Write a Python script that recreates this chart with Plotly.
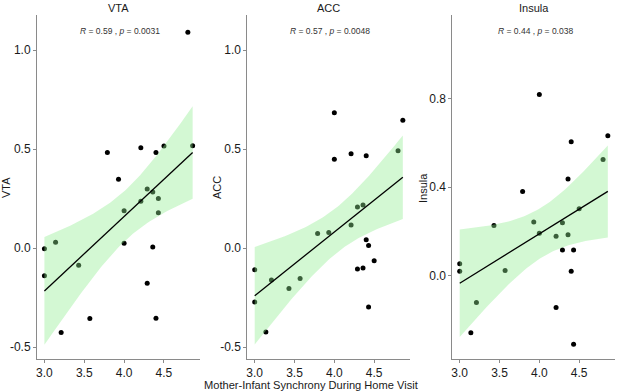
import numpy as np
import plotly.graph_objects as go

panels = ["VTA", "ACC", "Insula"]
x_title = "Mother-Infant Synchrony During Home Visit"

vta_x = [4.80, 3.79, 4.21, 4.40, 4.50, 4.86, 3.93, 4.29, 4.36, 4.21, 4.43, 4.43, 4.00, 4.00, 4.36, 3.00, 3.14, 3.00, 3.43, 4.29, 3.57, 4.40, 3.21]
vta_y = [1.09, 0.483, 0.507, 0.483, 0.515, 0.517, 0.348, 0.298, 0.283, 0.236, 0.251, 0.178, 0.189, 0.024, 0.005, -0.003, 0.029, -0.14, -0.086, -0.177, -0.355, -0.354, -0.426]

acc_x = [4.00, 4.86, 4.00, 4.21, 4.40, 4.80, 4.29, 4.36, 4.21, 3.79, 3.93, 4.40, 4.43, 4.50, 4.29, 4.36, 3.00, 3.21, 3.57, 3.43, 3.00, 4.43, 3.14]
acc_y = [0.684, 0.645, 0.449, 0.476, 0.466, 0.491, 0.207, 0.217, 0.116, 0.074, 0.079, 0.042, 0.013, -0.064, -0.106, -0.101, -0.109, -0.161, -0.153, -0.204, -0.272, -0.298, -0.424]

ins_x = [4.00, 4.86, 4.40, 4.80, 4.36, 3.79, 4.50, 3.43, 3.93, 4.29, 4.00, 4.21, 4.36, 4.29, 4.43, 3.00, 3.00, 3.57, 4.40, 3.21, 4.21, 3.14, 4.43]
ins_y = [0.818, 0.632, 0.605, 0.524, 0.437, 0.38, 0.302, 0.227, 0.243, 0.239, 0.192, 0.179, 0.185, 0.116, 0.117, 0.055, 0.021, 0.024, 0.021, -0.12, -0.143, -0.257, -0.309]

stats_text = ["<i>R</i> = 0.59 , <i>p</i> = 0.0031",
              "<i>R</i> = 0.57 , <i>p</i> = 0.0048",
              "<i>R</i> = 0.44 , <i>p</i> = 0.038"]

x_ticks = [3.0, 3.5, 4.0, 4.5]
y_ticks = [[-0.5, 0.0, 0.5, 1.0], [-0.5, 0.0, 0.5, 1.0], [0.0, 0.4, 0.8]]
y_ranges = [[-0.56, 1.177], [-0.56, 1.177], [-0.375, 1.176]]
x_range = [2.907, 4.95]

T975 = 2.0796  # t quantile, df = 21

data = [(vta_x, vta_y), (acc_x, acc_y), (ins_x, ins_y)]

FONT = "Liberation Sans, Arial, sans-serif"

W, H = 617, 392
def px(xp):
    return xp / W
def py(yp):
    return 1 - yp / H

fig = go.Figure()

x_domains = [[px(37), px(199.8)], [px(247.3), px(410)], [px(452.3), px(615)]]
y_domain = [py(359), py(15)]
ytitle_x = [6, 217, 423]

for i, (xs, ys) in enumerate(data):
    xa = "x" if i == 0 else f"x{i+1}"
    ya = "y" if i == 0 else f"y{i+1}"
    x = np.array(xs); y = np.array(ys)
    n = len(x)
    b, a = np.polyfit(x, y, 1)
    resid = y - (a + b * x)
    s = np.sqrt(np.sum(resid**2) / (n - 2))
    sxx = np.sum((x - x.mean())**2)
    grid = np.linspace(x.min(), x.max(), 80)
    fit = a + b * grid
    se = s * np.sqrt(1 / n + (grid - x.mean())**2 / sxx)
    lo = fit - T975 * se
    hi = fit + T975 * se

    fig.add_trace(go.Scatter(x=xs, y=ys, mode="markers", xaxis=xa, yaxis=ya,
                             marker=dict(color="black", size=5), showlegend=False))
    fig.add_trace(go.Scatter(x=np.concatenate([grid, grid[::-1]]),
                             y=np.concatenate([hi, lo[::-1]]),
                             mode="lines", fill="toself", line=dict(width=0),
                             fillcolor="rgba(144,238,144,0.4)", xaxis=xa, yaxis=ya,
                             showlegend=False, hoverinfo="skip"))
    fig.add_trace(go.Scatter(x=grid, y=fit, mode="lines", xaxis=xa, yaxis=ya,
                             line=dict(color="black", width=1.3), showlegend=False))

    axis_common = dict(showline=True, linecolor="#8a8a8a", linewidth=1, ticks="outside",
                       ticklen=3, tickcolor="#8a8a8a", showgrid=False, zeroline=False,
                       tickfont=dict(family=FONT, size=12, color="#1a1a1a"))
    xkey = "xaxis" if i == 0 else f"xaxis{i+1}"
    ykey = "yaxis" if i == 0 else f"yaxis{i+1}"
    fig.update_layout(**{
        xkey: dict(domain=x_domains[i], range=x_range, anchor=ya,
                   tickvals=x_ticks, ticktext=[f"{v:.1f}" for v in x_ticks], **axis_common),
        ykey: dict(domain=y_domain, range=y_ranges[i], anchor=xa,
                   tickvals=y_ticks[i], ticktext=[f"{v:.1f}" for v in y_ticks[i]],
                   **axis_common),
    })
    xc = (x_domains[i][0] + x_domains[i][1]) / 2
    fig.add_annotation(text=panels[i], xref="paper", yref="paper", x=xc, y=py(8),
                       showarrow=False, font=dict(family=FONT, size=11, color="#1a1a1a"),
                       xanchor="center", yanchor="middle")
    fig.add_annotation(text=panels[i], xref="paper", yref="paper", x=px(ytitle_x[i]), y=py(188),
                       showarrow=False, textangle=-90,
                       font=dict(family=FONT, size=11, color="#1a1a1a"),
                       xanchor="center", yanchor="middle")
    fig.add_annotation(text=stats_text[i], xref=f"{xa} domain", yref=f"{ya} domain",
                       x=0.51, y=0.953, showarrow=False,
                       font=dict(family=FONT, size=8.5, color="#333333"),
                       xanchor="center", yanchor="middle")

fig.add_annotation(text=x_title, xref="paper", yref="paper", x=px(311), y=py(385),
                   showarrow=False, font=dict(family=FONT, size=11.1, color="#1a1a1a"),
                   xanchor="center", yanchor="middle")

fig.update_layout(width=W, height=H, margin=dict(l=0, r=0, t=0, b=0),
                  paper_bgcolor="white", plot_bgcolor="white")
fig.write_html("out.html", config={"displayModeBar": False},
               post_script="document.body.style.margin='0';")
